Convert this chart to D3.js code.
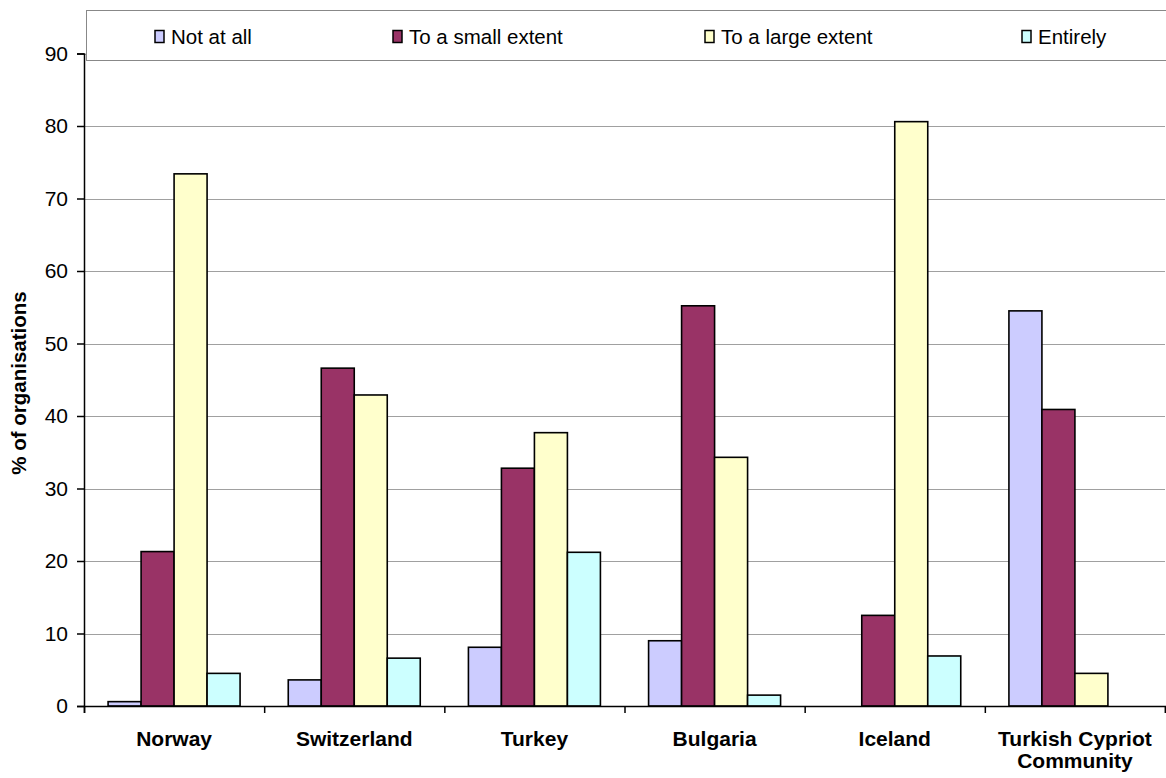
<!DOCTYPE html>
<html><head><meta charset="utf-8">
<script src="https://cdn.jsdelivr.net/npm/d3@7"></script>
<style>body{margin:0;background:#fff}svg{display:block;font-family:"Liberation Sans",Arial,sans-serif}</style>
</head><body><svg id="c" width="1166" height="778"></svg>
<script>
const categories = ["Norway","Switzerland","Turkey","Bulgaria","Iceland","Turkish Cypriot Community"];
const categoryLines = [["Norway"],["Switzerland"],["Turkey"],["Bulgaria"],["Iceland"],["Turkish Cypriot","Community"]];
const seriesNames = ["Not at all","To a small extent","To a large extent","Entirely"];
const notAtAll   = [0.6, 3.6, 8.1, 9.0, 0, 54.5];
const smallExtent = [21.3, 46.6, 32.8, 55.2, 12.5, 40.9];
const largeExtent = [73.4, 42.9, 37.7, 34.3, 80.6, 4.5];
const entirely   = [4.5, 6.6, 21.2, 1.5, 6.9, 0];
const yTicks = [0,10,20,30,40,50,60,70,80,90];
const colors = ["#CCCCFF","#993366","#FFFFCC","#CCFFFF"];
const seriesValues = [notAtAll, smallExtent, largeExtent, entirely];

const svg = d3.select("#c");
const L = 84, R = 1165, T = 53.5, B = 706;
const y = d3.scaleLinear().domain([0,90]).range([B,T]);
const x0 = d3.scaleBand().domain(categories).range([L,R]);
const x1 = d3.scaleBand().domain(seriesNames).range([0,x0.bandwidth()]).paddingOuter(0.73);
const color = d3.scaleOrdinal().domain(seriesNames).range(colors);

// gridlines
svg.append("g").selectAll("line").data(yTicks.filter(d=>d>0)).join("line")
  .attr("x1",L).attr("x2",R).attr("y1",d=>Math.round(y(d))+0.5).attr("y2",d=>Math.round(y(d))+0.5)
  .attr("stroke","#a0a0a0").attr("stroke-width",1);

// bars
const rows = [];
categories.forEach((c,i)=>seriesNames.forEach((s,j)=>rows.push({c,s,v:seriesValues[j][i]})));
svg.append("g").selectAll("rect").data(rows.filter(d=>d.v>0)).join("rect")
  .attr("x",d=>x0(d.c)+x1(d.s)).attr("width",x1.bandwidth())
  .attr("y",d=>y(d.v)).attr("height",d=>y(0)-y(d.v))
  .attr("fill",d=>color(d.s)).attr("stroke","#000").attr("stroke-width",1.6);

// y axis
const ya = svg.append("g").attr("transform",`translate(${L},0)`)
  .call(d3.axisLeft(y).tickValues(yTicks).tickSize(7).tickPadding(9));
ya.select(".domain").attr("stroke","#000").attr("stroke-width",1.5);
ya.selectAll(".tick line").attr("stroke","#000").attr("stroke-width",1.5);
ya.selectAll("text").attr("font-size","21px").attr("fill","#000").attr("font-family","Liberation Sans, Arial, sans-serif");

// x axis
const xa = svg.append("g").attr("transform",`translate(0,${B})`)
  .call(d3.axisBottom(d3.scaleLinear().domain([0,6]).range([L,R])).tickValues([0,1,2,3,4,5,6]).tickSize(7).tickFormat(""));
xa.select(".domain").attr("stroke","#000").attr("stroke-width",1.5);
xa.selectAll(".tick line").attr("stroke","#000").attr("stroke-width",1.5);

// category labels
svg.append("g").selectAll("text").data(categories).join("text")
  .attr("x",d=>x0(d)+x0.bandwidth()/2).attr("y",746)
  .attr("text-anchor","middle").attr("font-weight","bold").attr("font-size","21px")
  .each(function(d,i){
    const t=d3.select(this);
    categoryLines[i].forEach((ln,k)=>t.append("tspan").attr("x",x0(d)+x0.bandwidth()/2).attr("dy",k?22:0).text(ln));
  });

// y title
svg.append("text").attr("transform","translate(26,383) rotate(-90)")
  .attr("text-anchor","middle").attr("font-weight","bold").attr("font-size","20.5px").text("% of organisations");

// legend
svg.append("rect").attr("x",86.5).attr("y",10.5).attr("width",1100).attr("height",50)
  .attr("fill","#fff").attr("stroke","#888").attr("stroke-width",1);
const legX = [155,393,705,1022];
const lg = svg.append("g").selectAll("g").data(seriesNames).join("g")
  .attr("transform",(d,i)=>`translate(${legX[i]},0)`);
lg.append("rect").attr("x",0).attr("y",30.5).attr("width",9).attr("height",12)
  .attr("fill",d=>color(d)).attr("stroke","#000").attr("stroke-width",1.5);
lg.append("text").attr("x",16).attr("y",44).attr("font-size","20.5px").text(d=>d);
</script></body></html>
